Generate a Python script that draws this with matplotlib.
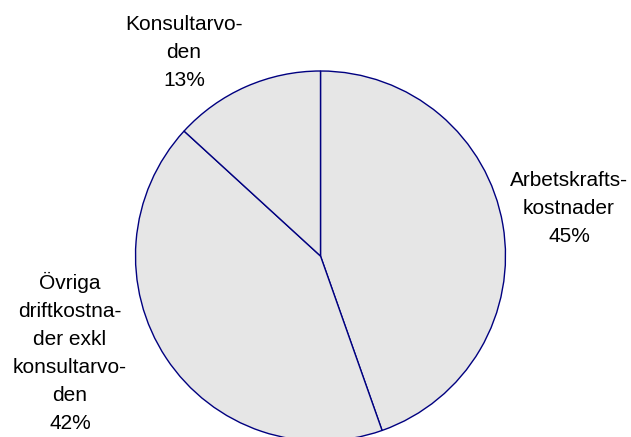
import matplotlib
matplotlib.use("Agg")
import matplotlib.pyplot as plt

# slice data (clockwise from top)
labels = ["Arbetskrafts-\nkostnader", "Övriga\ndriftkostna-\nder exkl\nkonsultarvo-\nden", "Konsultarvo-\nden"]
values = [44.6, 42.2, 13.2]
shares = ["45%", "42%", "13%"]

W, H = 631, 437
fig = plt.figure(figsize=(W / 100, H / 100), dpi=100)
ax = fig.add_axes([0, 0, 1, 1])
ax.pie(values, startangle=90, counterclock=False,
       center=(320.5, H - 256), radius=185,
       colors=["#e6e6e6"] * 3,
       wedgeprops=dict(edgecolor="#000080", linewidth=1.0),
       frame=True)
ax.set_xlim(0, W)
ax.set_ylim(0, H)
ax.set_aspect("equal")
ax.axis("off")

# label positions (pixel coords from top)
label_pos = [(569, 208), (70, 352), (184, 52)]
for lab, s, (x, y) in zip(labels, shares, label_pos):
    ax.text(x, H - y, lab + "\n" + s, ha="center", va="center",
            fontsize=15, family="Liberation Sans", linespacing=1.6,
            color="black")

fig.savefig("out.png", dpi=100)
